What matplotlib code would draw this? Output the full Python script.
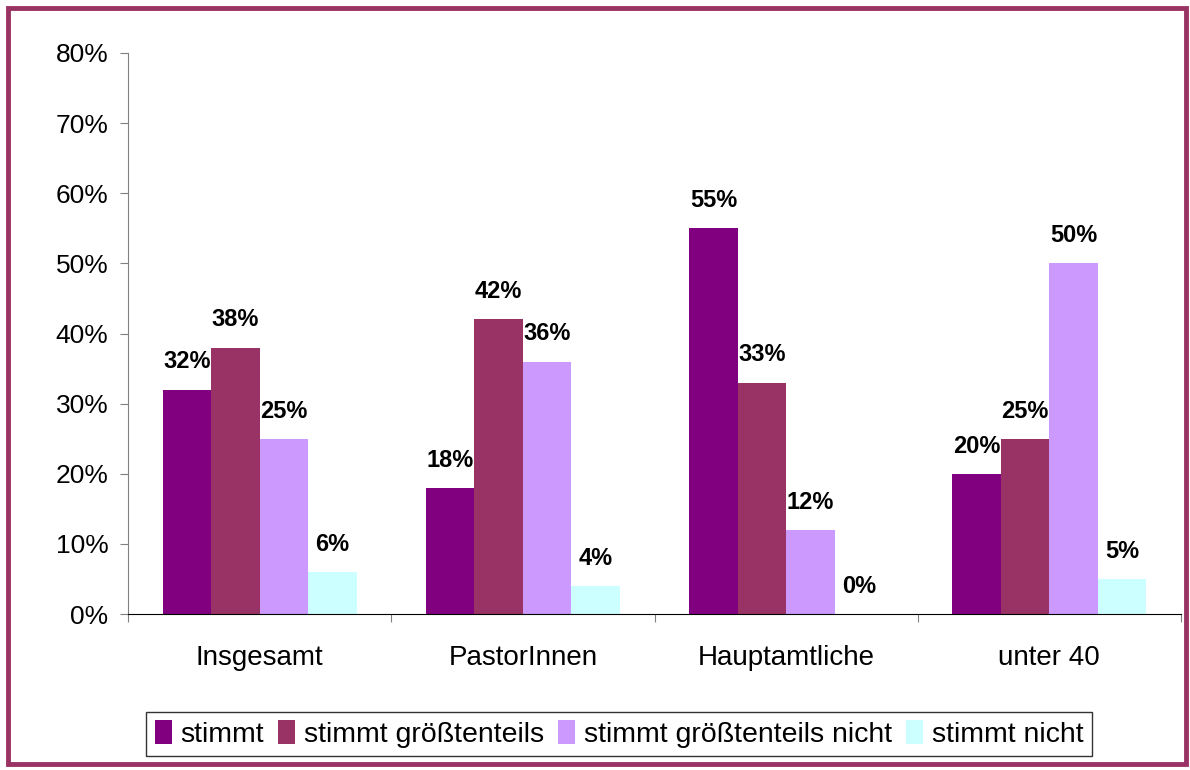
import numpy as np
import matplotlib
matplotlib.use("Agg")
import matplotlib.pyplot as plt
from matplotlib.patches import Rectangle

plt.rcParams["font.family"] = ["Liberation Sans", "DejaVu Sans"]

categories = ["Insgesamt", "PastorInnen", "Hauptamtliche", "unter 40"]
series_names = ["stimmt", "stimmt größtenteils", "stimmt größtenteils nicht", "stimmt nicht"]
stimmt = [32, 18, 55, 20]
stimmt_groesstenteils = [38, 42, 33, 25]
stimmt_groesstenteils_nicht = [25, 36, 12, 50]
stimmt_nicht = [6, 4, 0, 5]
colors = ["#800080", "#993366", "#CC99FF", "#CCFFFF"]

values = [stimmt, stimmt_groesstenteils, stimmt_groesstenteils_nicht, stimmt_nicht]

fig = plt.figure(figsize=(11.9, 7.7), dpi=100)
ax = fig.add_axes([128 / 1190, 156 / 770, (1181 - 128) / 1190, (614 - 53) / 770])

centers = np.arange(len(categories)) + 0.5
width = 0.184
for i, (name, vals, col) in enumerate(zip(series_names, values, colors)):
    x = centers + (i - 1.5) * width
    ax.bar(x, vals, width=width, color=col, label=name, linewidth=0)
    for xi, v in zip(x, vals):
        ax.text(xi, v + 2.3, f"{v}%", ha="center", va="bottom",
                fontsize=17, fontweight="bold")

ax.set_xlim(0, len(categories))
ax.set_ylim(0, 80)
ax.set_yticks(np.arange(0, 81, 10))
ax.set_yticklabels([f"{t}%" for t in range(0, 81, 10)], fontsize=19)
ax.tick_params(axis="y", length=6, pad=8, color="#808080")

ax.set_xticks(np.arange(len(categories) + 1))
ax.set_xticklabels([])
ax.set_xticks(centers, minor=True)
ax.set_xticklabels(categories, minor=True, fontsize=20)
ax.tick_params(axis="x", which="major", length=6, color="#808080")
ax.tick_params(axis="x", which="minor", length=0, pad=22)

ax.spines["top"].set_visible(False)
ax.spines["right"].set_visible(False)
ax.spines["left"].set_color("#808080")
ax.spines["bottom"].set_color("black")

leg = fig.legend(loc="center", bbox_to_anchor=(619 / 1190, 1 - 734 / 770), ncol=4,
                 fontsize=20.5, frameon=True, fancybox=False, handlelength=0.6,
                 handleheight=0.9, handletextpad=0.3, columnspacing=0.5,
                 borderpad=0.3, edgecolor="black")
leg.get_frame().set_linewidth(1.0)

fig.patches.append(Rectangle((8 / 1190, 6 / 770), 1178 / 1190, 756 / 770,
                             transform=fig.transFigure, fill=False,
                             edgecolor="#993366", linewidth=3.5))

fig.savefig("out.png", dpi=100)
